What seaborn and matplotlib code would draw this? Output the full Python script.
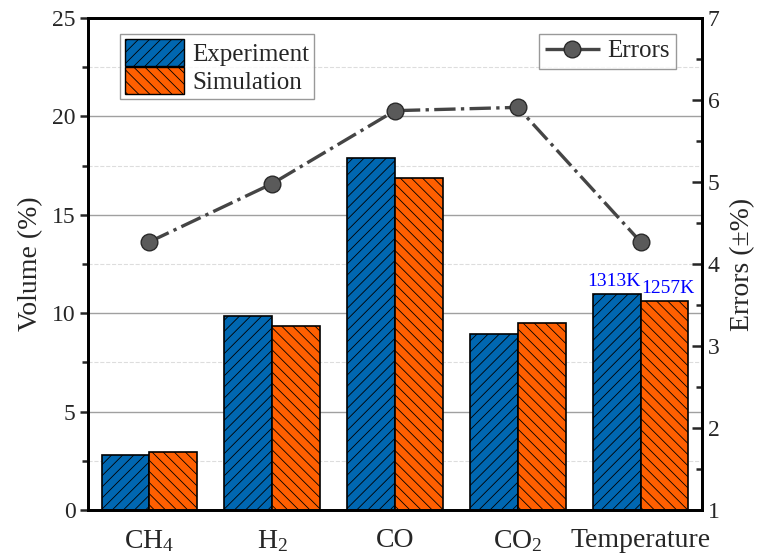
import matplotlib
matplotlib.use("Agg")
import matplotlib.pyplot as plt
import seaborn as sns
import pandas as pd
import numpy as np
from matplotlib.patches import Patch
from matplotlib.lines import Line2D

categories = ["CH4", "H2", "CO", "CO2", "Temperature"]
tick_labels = [r"CH$_4$", r"H$_2$", "CO", r"CO$_2$", "Temperature"]
experiment = [2.8, 9.85, 17.9, 8.95, 11.0]
simulation = [2.95, 9.35, 16.85, 9.5, 10.6]
errors = [4.27, 4.98, 5.87, 5.91, 4.27]
temp_labels = ["1313K", "1257K"]

sns.set_style("white")
plt.rcParams["font.family"] = ["Liberation Serif", "DejaVu Serif"]
plt.rcParams["mathtext.fontset"] = "custom"
plt.rcParams["mathtext.rm"] = "Liberation Serif"
plt.rcParams["mathtext.it"] = "Liberation Serif:italic"
plt.rcParams["mathtext.default"] = "rm"
plt.rcParams["hatch.linewidth"] = 0.6

df = pd.DataFrame({
    "cat": categories * 2,
    "value": experiment + simulation,
    "series": ["Experiment"] * 5 + ["Simulation"] * 5,
})

blue = "#0067B1"
orange = "#FF5F00"
line_c = "#454545"

fig = plt.figure(figsize=(7.6, 5.55), dpi=100)
ax = fig.add_axes([88 / 760, 1 - 510 / 555, 614 / 760, 492 / 555])

sns.barplot(data=df, x="cat", y="value", hue="series", order=categories,
            palette=[blue, orange], width=0.78, edgecolor="black", linewidth=1.2,
            ax=ax, legend=False, saturation=1, zorder=3)

for bar in ax.containers[0]:
    bar.set_hatch("///")
for bar in ax.containers[1]:
    bar.set_hatch("\\\\\\")

ax.set_xlim(-0.5, 4.5)
ax.set_ylim(0, 25)
ax.set_yticks([0, 5, 10, 15, 20, 25])
ax.set_yticks([2.5, 7.5, 12.5, 17.5, 22.5], minor=True)
ax.grid(axis="y", which="major", color="#a0a0a0", linewidth=1, linestyle="-", zorder=0)
ax.grid(axis="y", which="minor", color="#dddddd", linewidth=0.8, linestyle="--", zorder=0)
ax.set_axisbelow(True)
ax.set_xticks(range(5))
ax.set_xticklabels(tick_labels, fontsize=20)
ax.tick_params(axis="y", which="major", direction="out", length=6, width=1.8, labelsize=17, left=True, pad=3)
ax.tick_params(axis="y", which="minor", direction="out", length=4, width=1.8, left=True)
ax.tick_params(axis="x", which="major", length=0, pad=13)
ax.set_xlabel("")
ax.set_ylabel("Volume (%)", fontsize=20, labelpad=6)
for s in ax.spines.values():
    s.set_linewidth(2)
    s.set_color("black")

# temperature labels
tb_exp = ax.containers[0][4]
tb_sim = ax.containers[1][4]
for b, t, dx in zip([tb_exp, tb_sim], temp_labels, [-0.02, 0.03]):
    ax.text(b.get_x() + b.get_width() / 2 + dx, b.get_height() + 0.2, t,
            color="blue", ha="center", va="bottom", fontsize=14)

ax2 = ax.twinx()
sns.lineplot(x=list(range(5)), y=errors, ax=ax2, color=line_c, linestyle="-.",
             linewidth=2.4, marker="o", markersize=12, markerfacecolor="#5a5a5a",
             markeredgecolor="#2a2a2a", markeredgewidth=1, sort=False, zorder=5)
ax2.set_ylim(1, 7)
ax2.set_xlim(-0.5, 4.5)
ax2.set_yticks([1, 2, 3, 4, 5, 6, 7])
ax2.set_yticks(np.arange(1.5, 7, 1), minor=True)
ax2.tick_params(axis="y", which="major", direction="in", length=7, width=1.8, labelsize=17, right=True, pad=4)
ax2.tick_params(axis="y", which="minor", direction="in", length=4, width=1.8, right=True)
ax2.set_ylabel("Errors (±%)", fontsize=20, labelpad=8)
for s in ax2.spines.values():
    s.set_linewidth(2)
    s.set_color("black")

h1 = [Patch(facecolor=blue, edgecolor="black", hatch="///", label="Experiment"),
      Patch(facecolor=orange, edgecolor="black", hatch="\\\\\\", label="Simulation")]
leg1 = ax2.legend(handles=h1, loc="upper left", bbox_to_anchor=(0.052, 0.968), fontsize=18,
                  frameon=True, fancybox=False, edgecolor="#808080", handlelength=2.35,
                  handleheight=1.3, handletextpad=0.35, borderpad=0.2, labelspacing=0.05,
                  borderaxespad=0)
leg1.get_frame().set_linewidth(1)
ax2.add_artist(leg1)
h2 = [Line2D([0], [0], color=line_c, linestyle="-.", linewidth=2.4, marker="o", markersize=12,
             markerfacecolor="#5a5a5a", markeredgecolor="#2a2a2a", label="Errors")]
leg2 = ax2.legend(handles=h2, loc="upper right", bbox_to_anchor=(0.958, 0.968), fontsize=18,
                  frameon=True, fancybox=False, edgecolor="#808080", handlelength=2.2,
                  handletextpad=0.3, borderpad=0.25, borderaxespad=0)
leg2.get_frame().set_linewidth(1)

fig.savefig("out.png", dpi=100)
